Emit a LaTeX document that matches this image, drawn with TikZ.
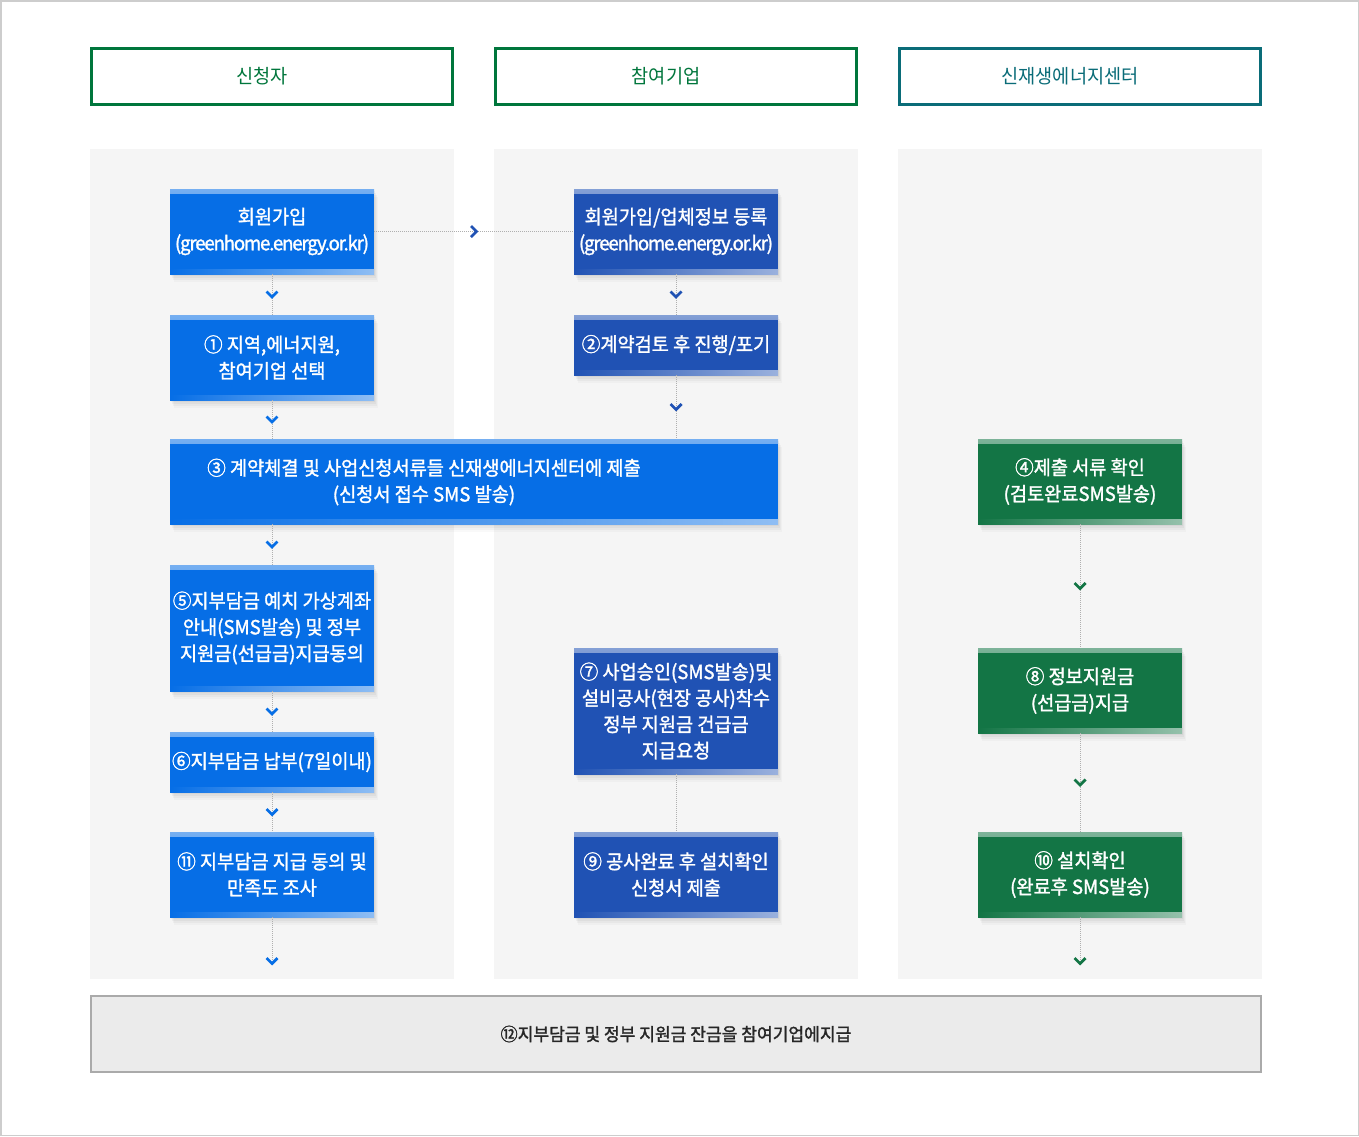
\documentclass[tikz,border=0pt]{standalone}
\usepackage{fontspec}
\setmainfont{Noto Sans CJK KR}
\newfontfamily\kfont[FakeStretch=0.955]{Noto Sans CJK KR}
\newfontfamily\kbfont[FakeStretch=0.955,FakeBold=1.5]{Noto Sans CJK KR}
\usetikzlibrary{decorations.markings}
\definecolor{blueA}{RGB}{6,110,230}
\definecolor{blueB}{RGB}{32,82,180}
\definecolor{greenB}{RGB}{19,117,69}
\definecolor{hgreen}{RGB}{0,118,60}
\definecolor{hteal}{RGB}{10,108,120}
\definecolor{panel}{RGB}{245,245,245}
\definecolor{bottomfill}{RGB}{235,235,235}
\definecolor{bottomline}{RGB}{170,170,170}
\definecolor{framegray}{RGB}{205,205,205}
\definecolor{dotgray}{RGB}{175,175,175}
\tikzset{
  hdr/.style={draw=#1, line width=3pt, fill=white, minimum width=361pt, minimum height=56pt, inner sep=0pt},
  hdrtext/.style={text=#1, inner sep=0pt, font=\kfont\fontsize{19.5}{22}\selectfont},
  box/.style={rectangle, fill=#1, text=white, minimum width=204pt, inner sep=0pt, outer sep=0pt,
    align=center, font=\kbfont\fontsize{19.5}{26.3}\selectfont,
    preaction={fill=black, opacity=0.035, transform canvas={shift={(1pt,-2pt)}}},
    preaction={fill=black, opacity=0.035, transform canvas={shift={(2pt,-4pt)}}},
    preaction={fill=black, opacity=0.03, transform canvas={shift={(3pt,-6pt)}}},
    preaction={fill=black, opacity=0.025, transform canvas={shift={(4pt,-8pt)}}},
    path picture={
      \shade[top color=#1!55!white, bottom color=#1] (path picture bounding box.north west) rectangle ([yshift=-4pt]path picture bounding box.north east);
      \shade[left color=#1, right color=#1!45!white] ([yshift=5pt]path picture bounding box.south west) rectangle (path picture bounding box.south east);
    }},
  boxtext/.style={text=white, align=center, font=\kbfont\fontsize{19.5}{26.3}\selectfont, inner sep=0pt},
  flow/.style 2 args={draw=dotgray, line width=1pt, dash pattern=on 1pt off 1pt,
    postaction={decorate},
    decoration={markings, mark=at position #2 with {\draw[solid, line width=2.8pt, #1, line cap=butt, line join=miter] (-3pt,-5.5pt) -- (2.5pt,0pt) -- (-3pt,5.5pt);}}},
  plainflow/.style={draw=dotgray, line width=1pt, dash pattern=on 1pt off 1pt}
}
\newcommand{\tightlatin}[1]{{\addfontfeatures{LetterSpace=-6}#1}}
\begin{document}
\begin{tikzpicture}[x=1pt,y=-1pt]
\useasboundingbox (0,0) rectangle (1359,1136);
\fill[white] (0,0) rectangle (1359,1136);
\draw[framegray, line width=1.5pt] (0.75,0.75) rectangle (1358.25,1135.25);

% headers
\node[hdr=hgreen] (h1) at (272,76) {};
\node[hdr=hgreen] (h2) at (676,76) {};
\node[hdr=hteal] (h3) at (1080,76) {};
\node[hdrtext=hgreen] (h1t) at ([xshift=-10pt]h1.center) {신청자};
\node[hdrtext=hgreen] (h2t) at ([xshift=-10pt]h2.center) {참여기업};
\node[hdrtext=hteal] (h3t) at ([xshift=-10pt]h3.center) {신재생에너지센터};

% panels
\fill[panel] (90,149) rectangle (454,979);
\fill[panel] (494,149) rectangle (858,979);
\fill[panel] (898,149) rectangle (1262,979);

% column 1
\node[box=blueA, minimum height=85pt] (n0) at (272,231.5) {회원가입\\\tightlatin{(greenhome.energy.or.kr)}};
\node[box=blueA, minimum height=85pt] (n1) at (272,357.5) {① 지역,에너지원,\\참여기업 선택};
\node[box=blueA, minimum width=608pt, minimum height=85pt] (n3) at (474,481.5) {};
\node[boxtext] (n3t) at (424,482) {③ 계약체결 및 사업신청서류들 신재생에너지센터에 제출\\(신청서 접수 SMS 발송)};
\node[box=blueA, minimum height=126pt] (n5) at (272,628) {⑤지부담금 예치 가상계좌\\안내(SMS발송) 및 정부\\지원금(선급금)지급동의};
\node[box=blueA, minimum height=60pt] (n6) at (272,762) {⑥지부담금 납부(7일이내)};
\node[box=blueA, minimum height=85pt] (n11) at (272,874.5) {⑪ 지부담금 지급 동의 및\\만족도 조사};

% column 2
\node[box=blueB, minimum height=85pt] (m0) at (676,231.5) {회원가입/업체정보 등록\\\tightlatin{(greenhome.energy.or.kr)}};
\node[box=blueB, minimum height=60pt] (m2) at (676,345) {②계약검토 후 진행/포기};
\node[box=blueB, minimum height=126pt] (m7) at (676,711) {⑦ 사업승인(SMS발송)및\\설비공사(현장 공사)착수\\정부 지원금 건급금\\지급요청};
\node[box=blueB, minimum height=85pt] (m9) at (676,874.5) {⑨ 공사완료 후 설치확인\\신청서 제출};

% column 3
\node[box=greenB, minimum height=85pt] (g4) at (1080,481.5) {④제출 서류 확인\\(검토완료SMS발송)};
\node[box=greenB, minimum height=85pt] (g8) at (1080,690.5) {⑧ 정보지원금\\(선급금)지급};
\node[box=greenB, minimum height=85pt] (g10) at (1080,874.5) {⑩ 설치확인\\(완료후 SMS발송)};

% bottom
\node[draw=bottomline, line width=2pt, fill=bottomfill, minimum width=1170pt, minimum height=76pt,
  inner sep=0pt, text=black!85, font=\kbfont\fontsize{17.9}{22}\selectfont] (b12) at (676,1034) {⑫지부담금 및 정부 지원금 잔금을 참여기업에지급};

\coordinate (e1) at (272,961);
\coordinate (e3) at (1080,961);

% connectors
\path[flow={blueB}{0.5}] (n0.east) -- (m0.west);
\path[flow={blueA}{0.5}] (n0.south) -- (n1.north);
\path[flow={blueA}{0.5}] (n1.south) -- (n1.south |- n3.north);
\path[flow={blueA}{0.5}] (n5.north |- n3.south) -- (n5.north);
\path[flow={blueA}{0.5}] (n5.south) -- (n6.north);
\path[flow={blueA}{0.5}] (n6.south) -- (n11.north);
\path[flow={blueA}{1}] (n11.south) -- (e1);
\path[flow={blueB}{0.5}] (m0.south) -- (m2.north);
\path[flow={blueB}{0.5}] (m2.south) -- (m2.south |- n3.north);
\path[plainflow] (m7.south) -- (m9.north);
\path[flow={greenB}{0.5}] (g4.south) -- (g8.north);
\path[flow={greenB}{0.5}] (g8.south) -- (g10.north);
\path[flow={greenB}{1}] (g10.south) -- (e3);
\end{tikzpicture}
\end{document}
